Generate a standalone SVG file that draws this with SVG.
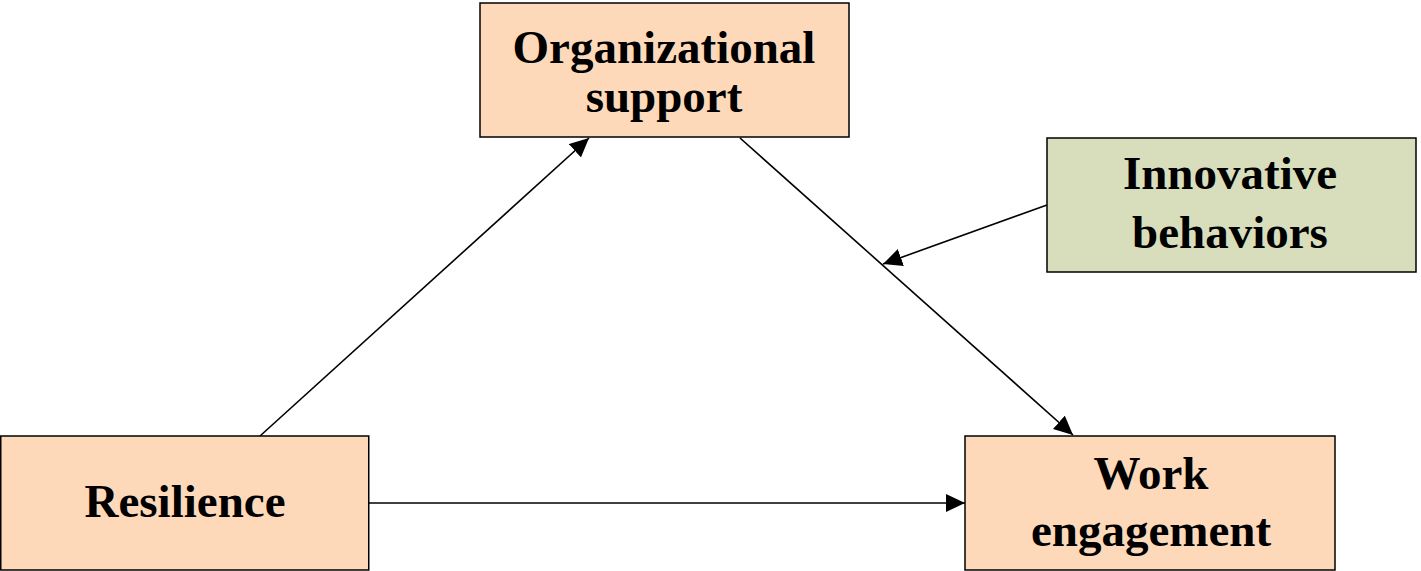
<svg xmlns="http://www.w3.org/2000/svg" width="1421" height="571" viewBox="0 0 1421 571">
<style>
.box{stroke:#000;stroke-width:1.5}
.peach{fill:#FDD9BA}
.green{fill:#D8DEBC}
.lbl{font-family:"Liberation Serif","Times New Roman",serif;font-weight:bold;font-size:47px;fill:#000;text-anchor:middle}
.conn{stroke:#000;stroke-width:1.6;fill:none;marker-end:url(#ah)}
</style>
<defs>
<marker id="ah" markerUnits="userSpaceOnUse" markerWidth="20" markerHeight="18" refX="19" refY="9" orient="auto">
<path d="M0,0 L19,9 L0,18 Z" fill="#000"/>
</marker>
</defs>
<rect width="1421" height="571" fill="#fff"/>
<g id="connectors">
<line class="conn" x1="260" y1="436" x2="589" y2="138"/>
<line class="conn" x1="740" y1="138" x2="1073" y2="435"/>
<line class="conn" x1="1047" y1="205" x2="883" y2="264"/>
<line class="conn" x1="369" y1="503" x2="965" y2="503"/>
</g>
<g id="org-support">
<rect class="box peach" x="480" y="3" width="369" height="134"/>
<text class="lbl" x="664" y="63">Organizational</text>
<text class="lbl" x="664" y="112">support</text>
</g>
<g id="innovative-behaviors">
<rect class="box green" x="1047" y="138" width="369" height="134"/>
<text class="lbl" x="1230" y="189">Innovative</text>
<text class="lbl" x="1230" y="248">behaviors</text>
</g>
<g id="resilience">
<rect class="box peach" x="0.75" y="436" width="368" height="134"/>
<text class="lbl" x="185" y="517">Resilience</text>
</g>
<g id="work-engagement">
<rect class="box peach" x="965" y="436" width="370" height="134"/>
<text class="lbl" x="1151" y="489">Work</text>
<text class="lbl" x="1151" y="546">engagement</text>
</g>
</svg>
